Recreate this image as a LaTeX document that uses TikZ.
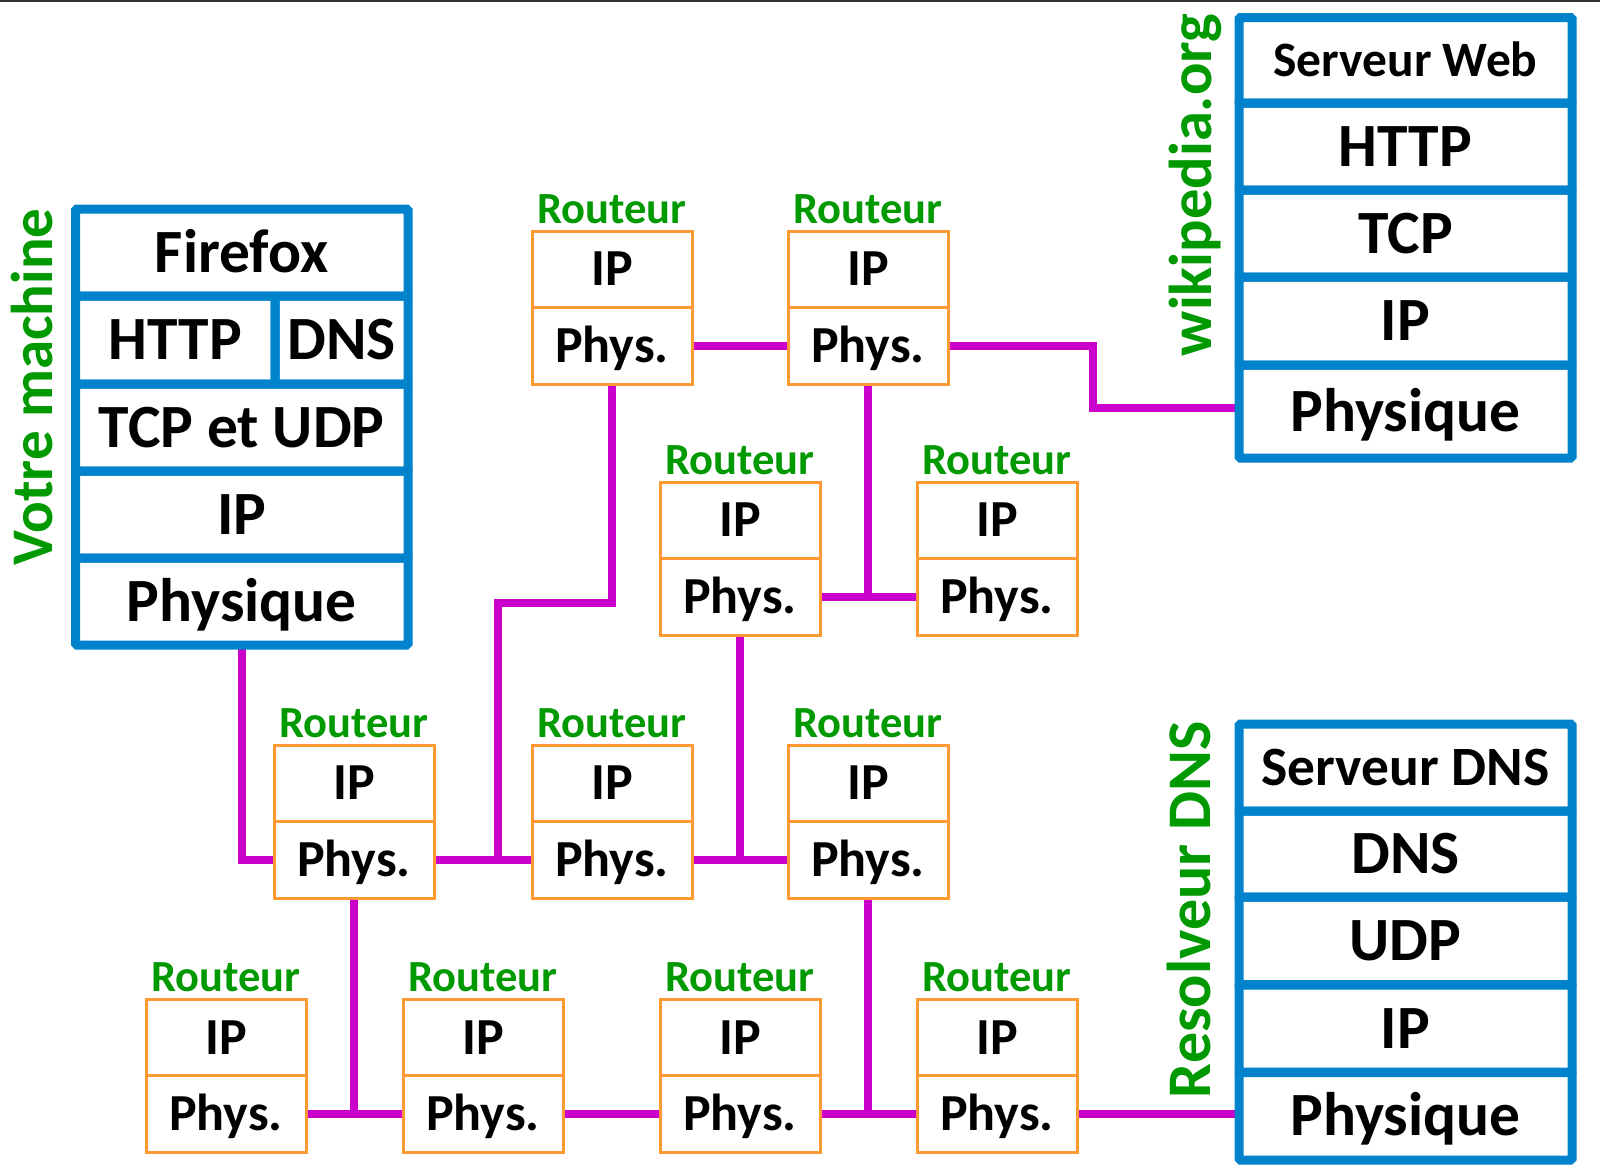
\documentclass[tikz,border=0pt]{standalone}
\usepackage{fontspec}
\setmainfont{Carlito}
\usetikzlibrary{backgrounds}
\definecolor{stackblue}{RGB}{0,130,205}
\definecolor{rorange}{RGB}{255,153,51}
\definecolor{wiremag}{RGB}{204,0,204}
\definecolor{lblgreen}{RGB}{0,153,0}
\definecolor{topbar}{RGB}{51,51,51}
\newcommand{\rtrbox}[3]{%
  \node[rbox, minimum height=76pt] (#1ip) at ({#2+80},{#3+38}) {IP};
  \node[rbox, minimum height=77pt] (#1ph) at ({#2+80},{#3+114.5}) {Phys.};
  \node[rlab] (#1lb) at ({#2+80},{#3-22}) {Routeur};
}
\begin{document}
\begin{tikzpicture}[x=1pt,y=-1pt,
  stk/.style={draw=stackblue, line width=9pt, rectangle, rounded corners=1.5pt, inner sep=0pt, outer sep=0pt,
    font=\bfseries\fontsize{61.5}{63}\selectfont, text height=39pt, text depth=0pt},
  rbox/.style={draw=rorange, line width=3pt, rectangle, inner sep=0pt, outer sep=0pt, minimum width=160pt,
    font=\bfseries\fontsize{52}{54}\selectfont, text height=33pt, text depth=0pt},
  rlab/.style={text=lblgreen, inner sep=0pt, font=\bfseries\fontsize{44.5}{46}\selectfont, text height=28pt, text depth=0pt},
  vlab/.style={text=lblgreen, inner sep=0pt, rotate=90, font=\bfseries\fontsize{59}{61}\selectfont},
  wire/.style={draw=wiremag, line width=8pt},
]
\useasboundingbox (0,0) rectangle (1600,1171);
\begin{pgfonlayer}{background}
\fill[white] (0,0) rectangle (1600,1171);
\end{pgfonlayer}
\fill[topbar] (0,0) rectangle (1600,2);

% Votre machine
\node[stk, minimum width=332.5pt, minimum height=87pt] (vmff) at (241.75,252.5) {Firefox};
\node[stk, minimum width=199.5pt, minimum height=88pt] (vmhttp) at (175.25,340) {HTTP};
\node[stk, minimum width=133pt, minimum height=88pt] (vmdns) at (341.5,340) {DNS};
\node[stk, minimum width=332.5pt, minimum height=87pt] (vmtcp) at (241.75,427.5) {TCP et UDP};
\node[stk, minimum width=332.5pt, minimum height=87pt] (vmip) at (241.75,514.5) {IP};
\node[stk, minimum width=332.5pt, minimum height=87pt] (vmph) at (241.75,601.5) {Physique};
\node[vlab, text height=38pt, text depth=0pt] (vmlab) at (33,387) {Votre machine};

% Serveur Web
\node[stk, minimum width=333pt, minimum height=85.5pt, font=\bfseries\fontsize{49.5}{52}\selectfont, text height=32pt] (wbsv) at (1405.5,60.25) {Serveur Web};
\node[stk, minimum width=333pt, minimum height=87pt] (wbhttp) at (1405.5,146.5) {HTTP};
\node[stk, minimum width=333pt, minimum height=87pt] (wbtcp) at (1405.5,233.5) {TCP};
\node[stk, minimum width=333pt, minimum height=88pt] (wbip) at (1405.5,321) {IP};
\node[stk, minimum width=333pt, minimum height=93pt] (wbph) at (1405.5,411.5) {Physique};
\node[vlab, font=\bfseries\fontsize{60.5}{62}\selectfont] (wblab) at (1195,185) {wikipedia.org};

% Serveur DNS
\node[stk, minimum width=333pt, minimum height=87pt, font=\bfseries\fontsize{55.5}{57}\selectfont, text height=35.5pt] (dnsv) at (1405.5,767.5) {Serveur DNS};
\node[stk, minimum width=333pt, minimum height=86pt] (dndns) at (1405.5,854) {DNS};
\node[stk, minimum width=333pt, minimum height=88pt] (dnudp) at (1405.5,941) {UDP};
\node[stk, minimum width=333pt, minimum height=88pt] (dnip) at (1405.5,1028.5) {IP};
\node[stk, minimum width=333pt, minimum height=88pt] (dnph) at (1405.5,1116) {Physique};
\node[vlab, font=\bfseries\fontsize{62}{64}\selectfont, text height=39.5pt, text depth=0pt] (dnlab) at (1191,909.5) {Resolveur DNS};

% Routeurs
\rtrbox{A}{532}{231}
\rtrbox{B}{788}{231}
\rtrbox{C}{660}{482}
\rtrbox{D}{917}{482}
\rtrbox{E}{274}{745}
\rtrbox{F}{532}{745}
\rtrbox{J}{788}{745}
\rtrbox{G}{146}{999.5}
\rtrbox{H}{403}{999.5}
\rtrbox{I}{660}{999.5}
\rtrbox{K}{917}{999.5}

\coordinate (jEF) at (498,859.5);
\coordinate (bA) at (612,603);
\coordinate (wb) at (1093,408);

\begin{pgfonlayer}{background}
\draw[wire] (vmph.south) |- (Eph.west);
\draw[wire] (Eph.east) -- (Fph.west);
\draw[wire] (Aph.south) -- (bA) -| (jEF);
\draw[wire] (Aph.east) -- (Bph.west);
\draw[wire] (Bph.east) -| (wb) -- (wb -| wbph.west);
\draw[wire] (Bph.south) -- (Bph.south |- Cph.east);
\draw[wire] (Cph.east) -- (Dph.west);
\draw[wire] (Cph.south) -- (Cph.south |- Fph.east);
\draw[wire] (Fph.east) -- (Jph.west);
\draw[wire] (Eph.south) -- (Eph.south |- Gph.east);
\draw[wire] (Gph.east) -- (Hph.west);
\draw[wire] (Hph.east) -- (Iph.west);
\draw[wire] (Jph.south) -- (Jph.south |- Iph.east);
\draw[wire] (Iph.east) -- (Kph.west);
\draw[wire] (Kph.east) -- (Kph.east -| dnph.west);
\end{pgfonlayer}
\end{tikzpicture}
\end{document}
